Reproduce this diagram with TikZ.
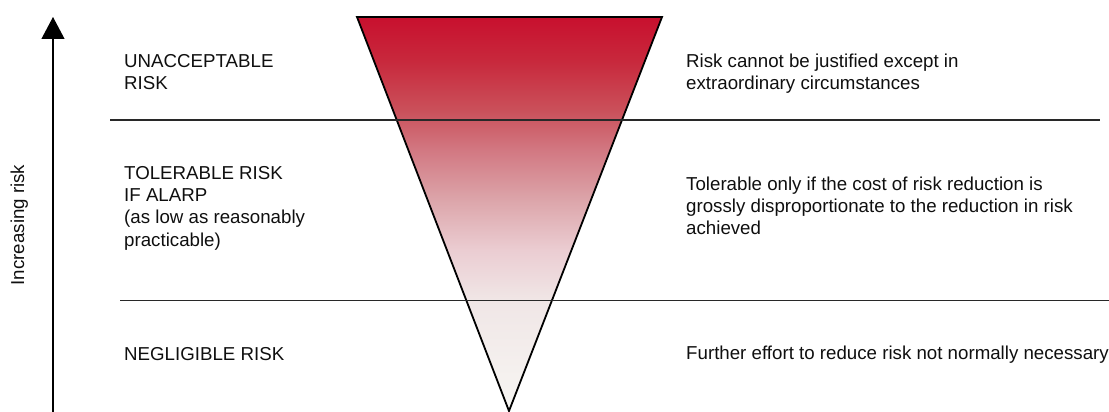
\documentclass[tikz,border=0pt]{standalone}
\usepackage{fontspec}
\setmainfont{Liberation Sans}
\usetikzlibrary{arrows.meta}
\definecolor{c0}{RGB}{247,246,243}
\definecolor{c1}{RGB}{240,230,230}
\definecolor{c2}{RGB}{235,205,210}
\definecolor{c3}{RGB}{220,165,170}
\definecolor{c4}{RGB}{210,120,130}
\definecolor{c5}{RGB}{202,80,90}
\definecolor{c6}{RGB}{200,40,60}
\definecolor{c7}{RGB}{200,16,46}
\definecolor{linegray}{RGB}{40,40,40}
\definecolor{txt}{RGB}{15,15,15}
\pgfdeclareverticalshading{riskshade}{100bp}{%
  color(0bp)=(c0); color(25bp)=(c0); color(39.1bp)=(c1); color(45.4bp)=(c2);
  color(51.8bp)=(c3); color(58.1bp)=(c4); color(63.2bp)=(c5); color(69.5bp)=(c6);
  color(75bp)=(c7); color(100bp)=(c7)}
\newcommand{\mlines}[1]{\begin{tabular}[t]{@{}l@{}}#1\end{tabular}}
\tikzset{
  lbl/.style={anchor=base west, inner sep=0pt, text=txt,
    font=\fontsize{18.7}{22.4}\selectfont},
  sep/.style={draw=linegray, line width=1.1pt},
  tri/.style={draw=black, line width=1.8pt, shading=riskshade, line join=miter},
}
\begin{document}
\begin{tikzpicture}[x=1pt,y=-1pt]
\useasboundingbox (0,0) rectangle (1109,412);
% triangle
\coordinate (tl) at (357,17);
\coordinate (tr) at (662,17);
\coordinate (ap) at (509,411);
\path[tri] (tl) -- (tr) -- (ap) -- cycle;
% separator lines
\coordinate (l1a) at (110,120);
\coordinate (l1b) at (1100,120);
\coordinate (l2a) at (120,300.5);
\coordinate (l2b) at (1109,300.5);
\draw[sep] (l1a) -- (l1b);
\draw[sep] (l2a) -- (l2b);
% axis arrow
\coordinate (axb) at (53,412);
\coordinate (axt) at (53,17);
\draw[line width=1.1pt, -{Triangle[width=23pt,length=22pt]}] (axb) -- (axt);
\node[lbl, anchor=base, rotate=90] (axl) at (24,225) {Increasing risk};
% left labels
\node[lbl] (unacc) at (124,67) {\mlines{UNACCEPTABLE\\RISK}};
\node[lbl] (toler) at (124,179) {\mlines{TOLERABLE RISK\\IF ALARP\\(as low as reasonably\\practicable)}};
\node[lbl] (negl) at (124,360) {NEGLIGIBLE RISK};
% right labels
\node[lbl] (runacc) at (686,67) {\mlines{Risk cannot be justified except in\\extraordinary circumstances}};
\node[lbl] (rtoler) at (686,190) {\mlines{Tolerable only if the cost of risk reduction is\\grossly disproportionate to the reduction in risk\\achieved}};
\node[lbl] (rnegl) at (686,359) {Further effort to reduce risk not normally necessary};
\end{tikzpicture}
\end{document}
